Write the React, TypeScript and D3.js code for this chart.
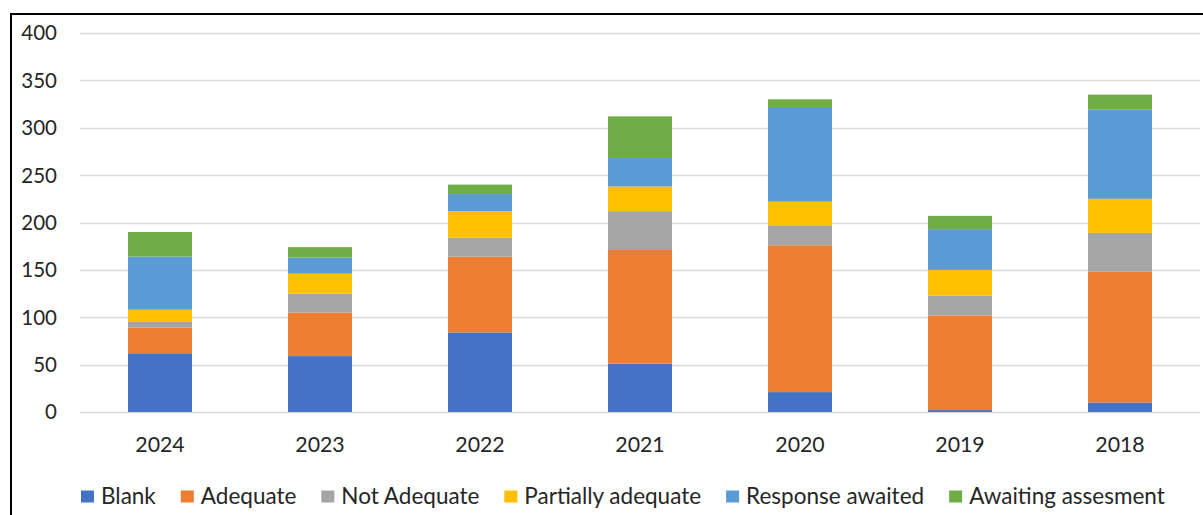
import React, { useEffect, useRef } from "react";
import * as d3 from "d3";

const categories = ["2024", "2023", "2022", "2021", "2020", "2019", "2018"];
const seriesNames = ["Blank", "Adequate", "Not Adequate", "Partially adequate", "Response awaited", "Awaiting assesment"];
const blank = [62, 59, 84, 51, 21, 2, 10];
const adequate = [27, 46, 80, 120, 155, 100, 138];
const notAdequate = [6, 20, 20, 41, 21, 21, 41];
const partiallyAdequate = [13, 21, 28, 26, 25, 27, 36];
const responseAwaited = [56, 17, 18, 30, 100, 43, 94];
const awaitingAssesment = [26, 11, 10, 44, 8, 14, 16];
const colors = ["#4472C4", "#ED7D31", "#A5A5A5", "#FFC000", "#5B9BD5", "#70AD47"];
const yTicks = [0, 50, 100, 150, 200, 250, 300, 350, 400];

const W = 1203;
const H = 515;
const FONT = "Lato, 'Open Sans', sans-serif";

export default function App() {
  const ref = useRef<SVGSVGElement | null>(null);

  useEffect(() => {
    const svg = d3.select(ref.current);
    svg.selectAll("*").remove();

    const seriesValues = [blank, adequate, notAdequate, partiallyAdequate, responseAwaited, awaitingAssesment];
    const rows = categories.map((c, i) => {
      const r: any = { cat: c };
      seriesNames.forEach((s, k) => (r[s] = seriesValues[k][i]));
      return r;
    });
    const stacked = d3.stack<any>().keys(seriesNames)(rows);

    const x = d3.scaleBand().domain(categories).range([80, 1200]).paddingInner(0.6).paddingOuter(0.3);
    const y = d3.scaleLinear().domain([0, 400]).range([412, 33]);

    svg.append("rect").attr("width", W).attr("height", H).attr("fill", "#fff");

    // gridlines
    svg.append("g")
      .selectAll("line")
      .data(yTicks)
      .join("line")
      .attr("x1", 80)
      .attr("x2", 1200)
      .attr("y1", (d) => Math.round(y(d)) + 0.5)
      .attr("y2", (d) => Math.round(y(d)) + 0.5)
      .attr("stroke", "#D9D9D9")
      .attr("stroke-width", 1.5);

    // y labels
    svg.append("g")
      .selectAll("text")
      .data(yTicks)
      .join("text")
      .attr("x", 57)
      .attr("y", (d) => y(d))
      .attr("dy", "0.36em")
      .attr("text-anchor", "end")
      .attr("font-family", FONT)
      .attr("font-size", 20.5)
      .attr("fill", "#262626")
      .text((d) => String(d));

    // bars
    svg.append("g")
      .selectAll("g")
      .data(stacked)
      .join("g")
      .attr("fill", (_d, i) => colors[i])
      .selectAll("rect")
      .data((d) => d)
      .join("rect")
      .attr("x", (d: any) => x(d.data.cat)!)
      .attr("width", x.bandwidth())
      .attr("y", (d: any) => y(d[1]))
      .attr("height", (d: any) => y(d[0]) - y(d[1]));

    // x labels
    svg.append("g")
      .selectAll("text")
      .data(categories)
      .join("text")
      .attr("x", (d) => x(d)! + x.bandwidth() / 2)
      .attr("y", 452)
      .attr("text-anchor", "middle")
      .attr("font-family", FONT)
      .attr("font-size", 21.3)
      .attr("fill", "#262626")
      .text((d) => d);

    // legend
    const lg = svg.append("g");
    let cx = 81;
    seriesNames.forEach((s, i) => {
      lg.append("rect").attr("x", cx).attr("y", 490.5).attr("width", 13).attr("height", 12).attr("fill", colors[i]);
      const t = lg.append("text")
        .attr("x", cx + 20)
        .attr("y", 503.5)
        .attr("font-family", FONT)
        .attr("font-size", 22.5)
        .attr("fill", "#262626")
        .text(s);
      const w = (t.node() as SVGTextElement).getComputedTextLength();
      cx += 20 + w + 25;
    });

    // outer border
    svg.append("rect")
      .attr("x", 11)
      .attr("y", 14)
      .attr("width", 1400)
      .attr("height", 700)
      .attr("fill", "none")
      .attr("stroke", "#000")
      .attr("stroke-width", 2);
  }, []);

  return (
    <svg
      ref={ref}
      width={W}
      height={H}
      style={{ position: "absolute", left: 0, top: 0, display: "block" }}
    />
  );
}
